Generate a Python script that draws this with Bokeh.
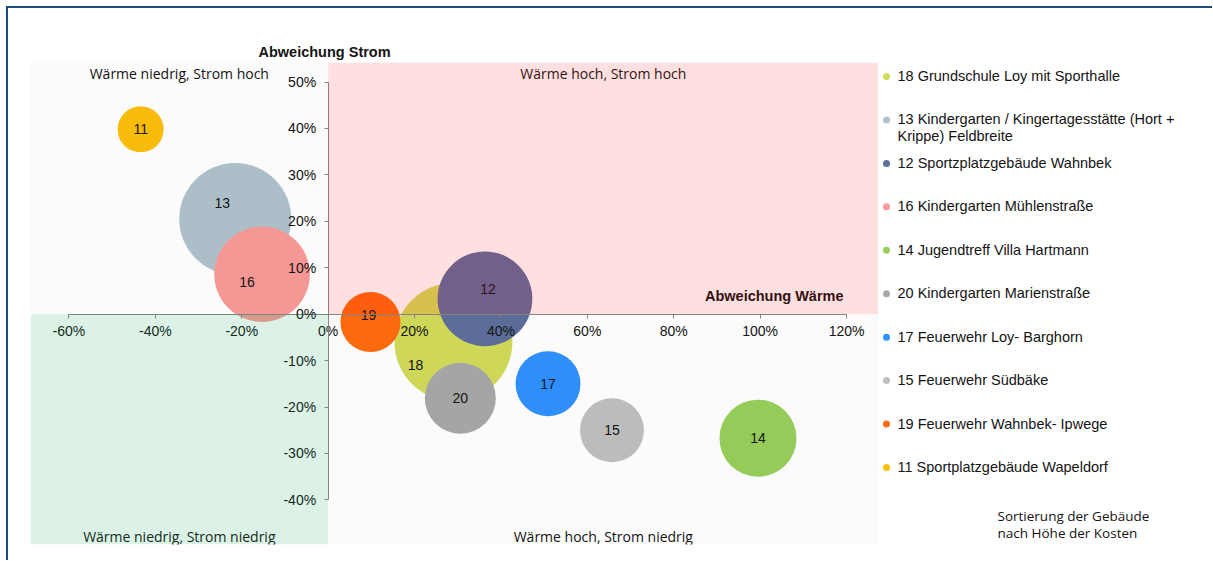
import math
from bokeh.plotting import figure
from bokeh.models import (Range1d, FixedTicker, NumeralTickFormatter, BoxAnnotation,
                          Label, ColumnDataSource)
from bokeh.layouts import row
from bokeh.embed import file_html
from bokeh.resources import INLINE
from bokeh.core.properties import value

# ---------------- data ----------------
ids = ["18", "13", "12", "16", "14", "20", "17", "15", "19", "11"]
names = [
    "Grundschule Loy mit Sporthalle",
    "Kindergarten / Kingertagesstätte (Hort +\nKrippe) Feldbreite",
    "Sportzplatzgebäude Wahnbek",
    "Kindergarten Mühlenstraße",
    "Jugendtreff Villa Hartmann",
    "Kindergarten Marienstraße",
    "Feuerwehr Loy- Barghorn",
    "Feuerwehr Südbäke",
    "Feuerwehr Wahnbek- Ipwege",
    "Sportplatzgebäude Wapeldorf",
]
abweichung_waerme = [0.290, -0.215, 0.363, -0.153, 0.995, 0.306, 0.509, 0.657, 0.098, -0.434]
abweichung_strom = [-0.060, 0.205, 0.033, 0.086, -0.267, -0.181, -0.150, -0.250, -0.017, 0.398]
blasen_groesse = [100, 90.1, 64.5, 65.6, 42.6, 36.2, 30.3, 29.4, 25.9, 15.2]
colors = ["#D2DB5A", "#AFC3CD", "#5E6E9C", "#F99A98", "#98CF5B",
          "#A8A8A8", "#2F92FF", "#BFBFBF", "#FF6C10", "#FCBF0E"]
x_ticks = [-0.6, -0.4, -0.2, 0.0, 0.2, 0.4, 0.6, 0.8, 1.0, 1.2]
y_ticks = [-0.4, -0.3, -0.2, -0.1, 0.0, 0.1, 0.2, 0.3, 0.4, 0.5]
quadrant_texts = ["Wärme niedrig, Strom hoch", "Wärme hoch, Strom hoch",
                  "Wärme niedrig, Strom niedrig", "Wärme hoch, Strom niedrig"]
sort_note = "Sortierung der Gebäude\nnach Höhe der Kosten"

# label nudges (screen px, style only)
label_dx = [-38, -13, 3, -15, 0, 0, 0, 0, -2, 0]
label_dy = [23, -16, -10, 8, 0, 0, 0, 0, -7, 0]

# ---------------- layout constants ----------------
X_START, X_END = -0.689, 1.274
Y_START, Y_END = -0.496, 0.542
R_MAX = 59  # px radius of largest bubble
ARIAL = "Liberation Sans"
HUMAN = "Open Sans"
TXT = "#141414"
AX = "#868686"
BT, BB = 54, 16         # top / bottom borders shared by both figures
FRAME_H = 482
H = BT + FRAME_H + BB

p = figure(width=872, height=H, x_range=Range1d(X_START, X_END),
           y_range=Range1d(Y_START, Y_END), output_backend="svg",
           toolbar_location=None, min_border_left=22, min_border_right=2,
           min_border_top=BT, min_border_bottom=BB)
p.outline_line_color = None
p.grid.grid_line_color = None
p.background_fill_color = "white"

p.title.text = "Abweichung Strom"
p.title.align = "left"
p.title.offset = 228
p.title.standoff = 5
p.title.text_font = ARIAL
p.title.text_font_style = "bold"
p.title.text_font_size = "14.5px"
p.title.text_color = TXT

xa = p.xaxis[0]
ya = p.yaxis[0]
for ax, ticks in ((xa, x_ticks), (ya, y_ticks)):
    ax.fixed_location = 0
    ax.bounds = (ticks[0], ticks[-1])
    ax.ticker = FixedTicker(ticks=ticks)
    ax.formatter = NumeralTickFormatter(format="0%")
    ax.minor_tick_line_color = None
    ax.major_tick_in = 0
    ax.major_tick_out = 4
    ax.axis_line_color = AX
    ax.major_tick_line_color = AX
    ax.major_label_text_font = ARIAL
    ax.major_label_text_font_size = "14px"
    ax.major_label_text_color = TXT
xa.major_label_standoff = 5
ya.major_label_standoff = 8

sizes = [2 * R_MAX * math.sqrt(v / max(blasen_groesse)) for v in blasen_groesse]
src = ColumnDataSource(dict(x=abweichung_waerme, y=abweichung_strom, size=sizes,
                            color=colors, label=ids, dx=label_dx, dy=label_dy))
p.scatter("x", "y", size="size", fill_color="color", line_color=None, source=src)
p.text("x", "y", text="label", x_offset="dx", y_offset="dy", source=src,
       text_align="center", text_baseline="middle", text_font=value(ARIAL),
       text_font_size="14px", text_color=TXT)

# quadrant overlays (translucent, drawn over everything like the original)
p.add_layout(BoxAnnotation(left=0, bottom=0, fill_color="#FF0000", fill_alpha=0.12,
                           line_color=None, level="overlay"))
p.add_layout(BoxAnnotation(right=0, top=0, fill_color="#00A04A", fill_alpha=0.135,
                           line_color=None, level="overlay"))
p.add_layout(BoxAnnotation(right=0, bottom=0, fill_color="#000000", fill_alpha=0.016,
                           line_color=None, level="overlay"))
p.add_layout(BoxAnnotation(left=0, top=0, fill_color="#000000", fill_alpha=0.016,
                           line_color=None, level="overlay"))

# quadrant labels
qx = [(X_START + 0) / 2, (0 + X_END) / 2]
for i, t in enumerate(quadrant_texts):
    top = i < 2
    p.add_layout(Label(x=qx[i % 2], y=Y_END if top else Y_START, text=t,
                       y_offset=-10.5 if top else 8, text_align="center",
                       text_baseline="middle", text_font=HUMAN,
                       text_font_size="14px", text_color=TXT))

p.add_layout(Label(x=x_ticks[-1], y=0, text="Abweichung Wärme", x_offset=-3, y_offset=18,
                   text_align="right", text_baseline="middle", text_font=ARIAL,
                   text_font_style="bold", text_font_size="14.5px", text_color=TXT))

# ---------------- legend figure ----------------
W2 = 332
lg = figure(width=W2, height=H, x_range=Range1d(0, W2), y_range=Range1d(FRAME_H, 0),
            output_backend="svg", toolbar_location=None, min_border_left=0,
            min_border_right=0, min_border_top=BT, min_border_bottom=BB,
            x_axis_location=None, y_axis_location=None)
lg.outline_line_color = None
lg.grid.grid_line_color = None
ROW0, ROWSTEP = 14, 43.44
ys = [ROW0 + i * ROWSTEP for i in range(len(ids))]
lg.scatter(x=[6] * len(ids), y=ys, size=7, fill_color=colors, line_color=None)
lg.text(x=[17] * len(ids), y=[y - 8.5 for y in ys],
        text=[f"{a} {b}" for a, b in zip(ids, names)],
        text_align="left", text_baseline="top", text_font=value(ARIAL),
        text_font_size="14.5px", text_color=TXT, text_line_height=1.05)
lg.text(x=[117], y=[444], text=[sort_note],
        text_align="left", text_baseline="top", text_font=value(HUMAN),
        text_font_size="13.5px", text_color=TXT, text_line_height=0.98)

layout = row(p, lg)
layout.styles = {"border-top": "2px solid #1F4A7D", "border-left": "2px solid #1F4A7D",
                 "margin-left": "6px", "margin-top": "6px"}

open("out.html", "w").write(file_html(layout, INLINE))
